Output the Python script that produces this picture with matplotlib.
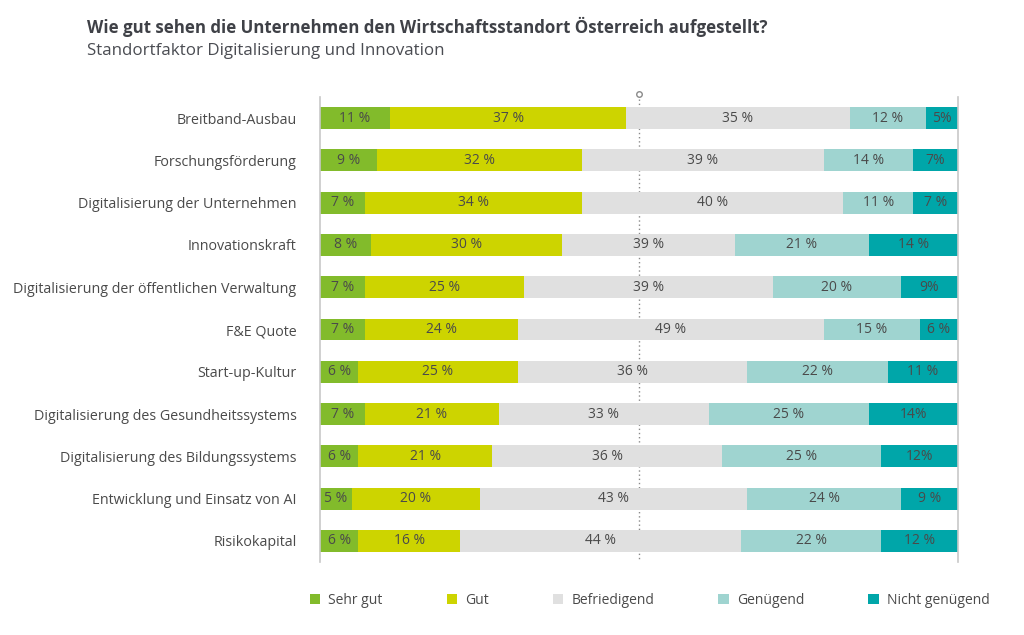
import matplotlib
matplotlib.use("Agg")
import matplotlib.pyplot as plt
from matplotlib.patches import Patch
import numpy as np

plt.rcParams['font.family'] = ['Open Sans', 'DejaVu Sans']

# Data (percent labels as printed)
categories = [
    "Breitband-Ausbau",
    "Forschungsförderung",
    "Digitalisierung der Unternehmen",
    "Innovationskraft",
    "Digitalisierung der öffentlichen Verwaltung",
    "F&E Quote",
    "Start-up-Kultur",
    "Digitalisierung des Gesundheitssystems",
    "Digitalisierung des Bildungssystems",
    "Entwicklung und Einsatz von AI",
    "Risikokapital",
]
sehr_gut = [11, 9, 7, 8, 7, 7, 6, 7, 6, 5, 6]
gut = [37, 32, 34, 30, 25, 24, 25, 21, 21, 20, 16]
befriedigend = [35, 39, 40, 39, 39, 49, 36, 33, 36, 43, 44]
genuegend = [12, 14, 11, 21, 20, 15, 22, 25, 25, 24, 22]
nicht_genuegend = [5, 7, 7, 14, 9, 6, 11, 14, 12, 9, 12]

series_names = ["Sehr gut", "Gut", "Befriedigend", "Genügend", "Nicht genügend"]
colors = ["#82bb2b", "#cdd400", "#e0e0e0", "#9fd4d0", "#00a6a9"]
# label formats differ slightly in the original (e.g. "5%" without space)
label_nospace = {(0, 4), (1, 4), (4, 4), (7, 4), (8, 4)}

text_col = "#4a4a4a"

fig = plt.figure(figsize=(10.24, 6.35), dpi=100)
ax = fig.add_axes([320 / 1024, 1 - 562 / 635, 638 / 1024, 465 / 635])

y = np.arange(len(categories))
sg = np.array(sehr_gut)
g = np.array(gut)
gn = np.array(genuegend)
ng = np.array(nicht_genuegend)
# the grey segment fills the rest of each bar (as in the original)
bef_width = 100 - sg - g - gn - ng

widths = [sg, g, bef_width, gn, ng]
labels = [sehr_gut, gut, befriedigend, genuegend, nicht_genuegend]

left = np.zeros(len(categories))
for k, (w, lab) in enumerate(zip(widths, labels)):
    ax.barh(y, w, left=left, height=0.52, color=colors[k], label=series_names[k])
    for i in range(len(categories)):
        sep = "%" if (i, k) in label_nospace else " %"
        ax.text(left[i] + w[i] / 2, y[i], f"{lab[i]}{sep}", ha="center", va="center",
                fontsize=10, color=text_col)
    left = left + w

ax.set_xlim(0, 100)
ax.set_ylim(len(categories) - 0.5, -0.5)

# dotted middle line with small marker at top
ax.plot([50, 50], [-0.45, len(categories) - 0.5], linestyle=(0, (1, 2)), color="#8a8a8a",
        linewidth=1.0, zorder=0)
ax.plot([50], [-0.58], marker="o", markersize=4, markerfacecolor="white",
        markeredgecolor="#8a8a8a", markeredgewidth=1.0, clip_on=False)

ax.set_yticks(y)
ax.set_yticklabels(categories, fontsize=10.3, color=text_col)
ax.tick_params(axis="y", length=0, pad=17)
ax.set_xticks([])
for s in ["top", "bottom"]:
    ax.spines[s].set_visible(False)
for s in ["left", "right"]:
    ax.spines[s].set_color("#c8c8c8")
    ax.spines[s].set_linewidth(1.2)

fig.text(87 / 1024, 1 - 27 / 635,
         "Wie gut sehen die Unternehmen den Wirtschaftsstandort Österreich aufgestellt?",
         fontsize=12.2, fontweight="bold", color="#3f4147", va="center", ha="left")
fig.text(87 / 1024, 1 - 51 / 635, "Standortfaktor Digitalisierung und Innovation",
         fontsize=12.2, color="#4a4c52", va="center", ha="left")

handles = [Patch(facecolor=c, edgecolor="none") for c in colors]
fig.legend(handles, series_names, loc="center left", bbox_to_anchor=(297 / 1024, 1 - 600 / 635),
           ncol=5, frameon=False, fontsize=10, handlelength=0.75, handleheight=0.75,
           handletextpad=0.6, columnspacing=4.6, labelcolor=text_col)

fig.savefig("out.png", dpi=100)
